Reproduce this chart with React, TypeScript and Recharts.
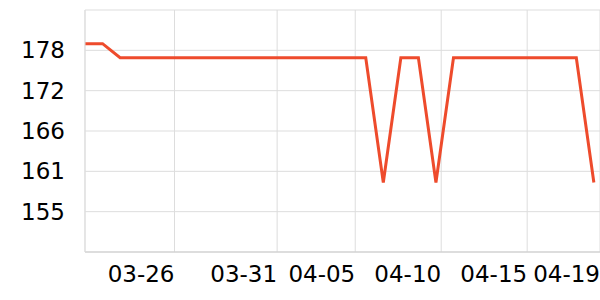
import { LineChart, Line, XAxis, YAxis, CartesianGrid } from "recharts";

// one reading per step along the x axis
const values = [
  178.8, 178.8, 176.8, 176.8, 176.8, 176.8, 176.8, 176.8, 176.8, 176.8,
  176.8, 176.8, 176.8, 176.8, 176.8, 176.8, 176.8, 159.0, 176.8, 176.8,
  159.0, 176.8, 176.8, 176.8, 176.8, 176.8, 176.8, 176.8, 176.8, 159.0,
];

const xTicks = [5.1, 10.95, 15.4, 20.3, 25.2, 29.35];
const xTickLabels = ["03-26", "03-31", "04-05", "04-10", "04-15", "04-19"];

const yDomain = [149.1, 183.6];
const yTicks = [154.85, 160.6, 166.35, 172.1, 177.85];

const data = values.map((v, i) => ({ x: i, value: v }));

export default function App() {
  return (
    <div style={{ position: "absolute", left: 0, top: 0 }}>
      <LineChart
        width={600}
        height={300}
        data={data}
        margin={{ top: 10, right: 0, bottom: 0, left: 0 }}
        style={{ fontFamily: "DejaVu Sans" }}
      >
        <CartesianGrid stroke="#dddddd" />
        <XAxis
          dataKey="x"
          type="number"
          domain={[0, 29.35]}
          ticks={xTicks}
          tickFormatter={(v) => xTickLabels[xTicks.indexOf(v)] ?? ""}
          interval={0}
          height={48}
          tickLine={false}
          tickSize={0}
          tickMargin={14}
          axisLine={{ stroke: "#cccccc" }}
          tick={{ fill: "#000", fontSize: 23, textAnchor: "end" }}
        />
        <YAxis
          type="number"
          domain={yDomain}
          ticks={yTicks}
          tickFormatter={(v) => String(Math.round(v))}
          interval={0}
          width={85}
          tickLine={false}
          tickSize={0}
          tickMargin={20}
          axisLine={{ stroke: "#dddddd" }}
          tick={{ fill: "#000", fontSize: 23 }}
        />
        <Line
          dataKey="value"
          type="linear"
          stroke="#ee4b2c"
          strokeWidth={3}
          dot={false}
          isAnimationActive={false}
        />
      </LineChart>
    </div>
  );
}
